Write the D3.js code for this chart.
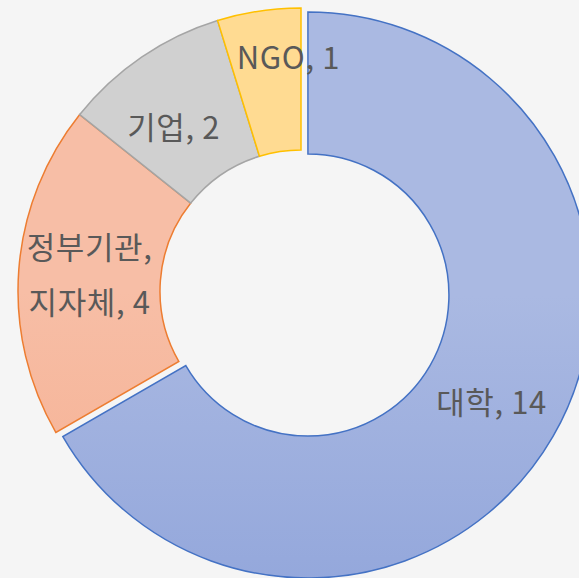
<!DOCTYPE html>
<meta charset="utf-8">
<head>
    <meta charset="utf-8">
    <title>도넛 차트</title>
    <script src="https://d3js.org/d3.v7.min.js" charset="utf-8"></script>
    <style>
        html, body {
            margin: 0;
            padding: 0;
            background: #f5f5f5;
        }
        svg {
            display: block;
        }
        .label {
            font-family: "Noto Sans CJK KR", "Noto Sans", sans-serif;
            font-size: 31px;
            letter-spacing: 0.6px;
            fill: #595959;
        }
    </style>
</head>

<body>
<svg width="579" height="578"></svg>

<script>

// 데이터
var categories = ["대학", "정부기관, 지자체", "기업", "NGO"];
var values = [14, 4, 2, 1];
var labelLines = [["대학, 14"], ["정부기관,", "지자체, 4"], ["기업, 2"], ["NGO, 1"]];

var strokes = ["#4472c4", "#ed7d31", "#a5a5a5", "#ffc000"];
var topFill = ["#aab9e2", "#f7bea6", "#d0d0d0", "#ffdb92"];
var botFill = ["#7e96d5", "#f4a07c", "#bcbcbc", "#ffd17a"];

var svg = d3.select("svg"),
    cx = 301, cy = 291,
    outerR = 283, innerR = 141,
    explode = 8;

var pie = d3.pie().sort(null).value(d => d)(values);

var arc = d3.arc().innerRadius(innerR).outerRadius(outerR);
var labelArc = d3.arc().innerRadius(212).outerRadius(212);

var defs = svg.append("defs");
pie.forEach(function(p, i) {
    var g = defs.append("linearGradient")
        .attr("id", "grad" + i)
        .attr("gradientUnits", "userSpaceOnUse")
        .attr("x1", 0).attr("y1", 0)
        .attr("x2", 0).attr("y2", 578);
    g.append("stop").attr("offset", "0%").attr("stop-color", topFill[i]);
    g.append("stop").attr("offset", "100%").attr("stop-color", botFill[i]);
});

function shift(p, i) {
    if (i !== 0) return [0, 0];
    var a = (p.startAngle + p.endAngle) / 2;
    return [explode * Math.sin(a), -explode * Math.cos(a)];
}

var chart = svg.append("g")
    .attr("transform", "translate(" + cx + "," + cy + ")");

chart.selectAll("path")
    .data(pie)
    .join("path")
    .attr("transform", (d, i) => "translate(" + shift(d, i) + ")")
    .attr("d", arc)
    .attr("fill", (d, i) => "url(#grad" + i + ")")
    .attr("stroke", (d, i) => strokes[i])
    .attr("stroke-width", 1.5);

// 라벨 위치 보정 (엑셀 배치 흉내)
var nudge = [[0, 2], [0, 0], [-8, 12], [19, -23]];

var lineH = 55;
var labels = chart.selectAll("text.label")
    .data(pie)
    .join("text")
    .attr("class", "label")
    .attr("text-anchor", "middle")
    .attr("transform", function(d, i) {
        var c = labelArc.centroid(d), s = shift(d, i);
        return "translate(" + (c[0] + s[0] + nudge[i][0]) + "," + (c[1] + s[1] + nudge[i][1]) + ")";
    });

labels.each(function(d, i) {
    var lines = labelLines[i];
    var t = d3.select(this);
    lines.forEach(function(l, j) {
        t.append("tspan")
            .attr("x", 0)
            .attr("y", (j - (lines.length - 1) / 2) * lineH)
            .attr("dy", "0.35em")
            .text(l);
    });
});

</script>
</body>
</html>
